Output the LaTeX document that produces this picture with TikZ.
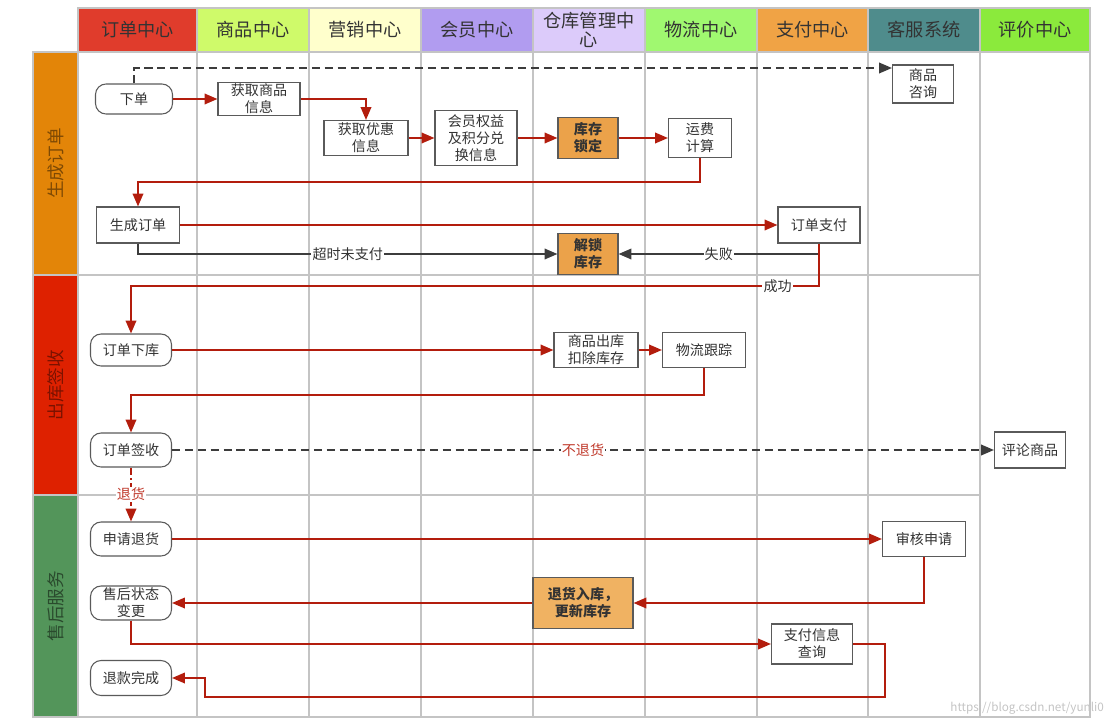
\documentclass[tikz,border=0pt]{standalone}
\usepackage{fontspec}
\setmainfont{Noto Sans CJK SC}
\definecolor{hdrorder}{HTML}{E03C2C}
\definecolor{hdrgoods}{HTML}{CFFA6A}
\definecolor{hdrmarket}{HTML}{FFFFCC}
\definecolor{hdrmember}{HTML}{B19CF0}
\definecolor{hdrstore}{HTML}{DCCBFA}
\definecolor{hdrship}{HTML}{A0F870}
\definecolor{hdrpay}{HTML}{F0A345}
\definecolor{hdrservice}{HTML}{4F8C8C}
\definecolor{hdrreview}{HTML}{8BEA3C}
\definecolor{laneorange}{HTML}{E38508}
\definecolor{lanered}{HTML}{DE2100}
\definecolor{lanegreen}{HTML}{53955A}
\definecolor{gridgray}{HTML}{C4C4C4}
\definecolor{boxgray}{HTML}{5A5A5A}
\definecolor{txtgray}{HTML}{333333}
\definecolor{flowred}{HTML}{B31D0D}
\definecolor{labelred}{HTML}{C0392B}
\definecolor{arrowgray}{HTML}{3C3C3C}
\definecolor{lockorange}{HTML}{EBA24A}
\definecolor{stockorange}{HTML}{F0B262}
\usepackage{tikz}
\usetikzlibrary{arrows.meta, positioning, calc}

\begin{document}
\begin{tikzpicture}[x=0.03cm, y=-0.03cm,
    grid/.style={draw=gridgray, line width=1.4pt},
    hdr/.style={draw=gridgray, line width=1.4pt, text=txtgray, align=center,
      minimum height=44*0.03cm, inner sep=1pt, font=\fontsize{15.5}{16}\selectfont},
    lane/.style={draw=gridgray, line width=1.4pt, rotate=90, minimum height=45*0.03cm,
      font=\fontsize{15}{16}\selectfont},
    sz/.style 2 args={minimum width=#1*0.03cm, minimum height=#2*0.03cm},
    box/.style={draw=boxgray, fill=white, line width=0.9pt, align=center, inner sep=1pt,
      text=txtgray, font=\fontsize{12}{14.5}\selectfont},
    rnd/.style={box, rounded corners=9pt},
    hot/.style={box, fill=lockorange, font=\fontsize{12}{14.5}\selectfont\bfseries},
    lbl/.style={fill=white, inner sep=1pt, text=txtgray, font=\fontsize{12}{14}\selectfont},
    flow/.style={draw=flowred, line width=1.6pt, -{Triangle[length=11pt, width=9pt]}},
    gflow/.style={draw=arrowgray, line width=1.6pt, -{Triangle[length=11pt, width=9pt]}},
    dflow/.style={draw=arrowgray, line width=1.6pt, dash pattern=on 7pt off 4pt,
      -{Triangle[length=11pt, width=9pt]}}]
  \useasboundingbox (0,0) rectangle (1111,727);

  % swim lane grid
  \foreach \x/\w/\c/\t [count=\i] in {78/119/hdrorder/订单中心, 197/112/hdrgoods/商品中心,
      309/112/hdrmarket/营销中心, 421/112/hdrmember/会员中心, 533/112/hdrstore/{仓库管理中\\心},
      645/112/hdrship/物流中心, 757/111/hdrpay/支付中心, 868/112/hdrservice/客服系统,
      980/110/hdrreview/评价中心}
    \node[hdr, fill=\c, minimum width=\w*0.03cm] (hdr\i) at (\x+\w/2, 30) {\t};
  \draw[grid] (78,52) rectangle (1090,717);
  \foreach \x in {197,309,421,533,645,757,868,980}
    \draw[grid] (\x,52) -- (\x,717);
  \foreach \y in {275,495}
    \draw[grid] (78,\y) -- (980,\y);
  \node[lane, fill=laneorange, text=laneorange!55!black, minimum width=223*0.03cm] (lane1) at (55.5,163.5) {生成订单};
  \node[lane, fill=lanered, text=lanered!55!black, minimum width=220*0.03cm] (lane2) at (55.5,385) {出库签收};
  \node[lane, fill=lanegreen, text=lanegreen!50!black, minimum width=222*0.03cm] (lane3) at (55.5,606) {售后服务};

  % 生成订单
  \node[rnd, sz={77}{30}] (order) at (134,99) {下单};
  \node[box, sz={82}{32}] (goodsinfo) at (259,99) {获取商品\\信息};
  \node[box, sz={84}{35}] (coupon) at (366,138) {获取优惠\\信息};
  \node[box, sz={82}{55}] (member) at (476,138) {会员权益\\及积分兑\\换信息};
  \node[hot, sz={60}{41}] (lock) at (588,138) {库存\\锁定};
  \node[box, sz={63}{39}] (freight) at (700,138) {运费\\计算};
  \node[box, sz={61}{38}] (consult) at (923,84) {商品\\咨询};
  \node[box, sz={83}{36}] (create) at (138,225) {生成订单};
  \node[box, sz={82}{36}] (pay) at (819,225) {订单支付};
  \node[hot, sz={60}{41}] (unlock) at (588,254) {解锁\\库存};

  % 出库签收
  \node[rnd, sz={81}{32}] (outbound) at (131,350) {订单下库};
  \node[box, sz={84}{35}] (outstock) at (596,350) {商品出库\\扣除库存};
  \node[box, sz={83}{35}] (track) at (704,350) {物流跟踪};
  \node[rnd, sz={81}{34}] (sign) at (131,450) {订单签收};
  \node[box, sz={71}{36}] (review) at (1030,450) {评论商品};

  % 售后服务
  \node[rnd, sz={81}{34}] (apply) at (131,539) {申请退货};
  \node[box, sz={83}{35}] (audit) at (924,539) {审核申请};
  \node[rnd, sz={81}{34}] (status) at (131,603) {售后状态\\变更};
  \node[hot, fill=stockorange, sz={100}{51}] (restock) at (583,603) {退货入库，\\更新库存};
  \node[box, sz={81}{40}] (payquery) at (812,644) {支付信息\\查询};
  \node[rnd, sz={81}{35}] (refund) at (131,678) {退款完成};

  % connectors
  \draw[dflow] (order.north) |- (consult.west |- 0,68);
  \draw[flow] (order) -- (goodsinfo);
  \draw[flow] (goodsinfo) -| (coupon);
  \draw[flow] (coupon) -- (member);
  \draw[flow] (member) -- (lock);
  \draw[flow] (lock) -- (freight);
  \draw[flow] (freight.south) |- (create.north |- 0,182) -- (create.north);
  \draw[flow] (create) -- (pay);
  \draw[gflow] (create.south) |- node[lbl, pos=0.75] {超时未支付} (unlock);
  \draw[gflow] (pay.south) |- node[lbl, pos=0.75] {失败} (unlock);
  \draw[flow] (pay.south) |- node[lbl, pos=0.53] {成功} (outbound.north |- 0,286) -- (outbound.north);
  \draw[flow] (outbound) -- (outstock);
  \draw[flow] (outstock) -- (track);
  \draw[flow] (track.south) |- (sign.north |- 0,395) -- (sign.north);
  \draw[dflow] (sign) -- node[lbl, text=labelred] {不退货} (review);
  \draw[flow, dash pattern=on 6pt off 3pt on 1.5pt off 3pt] (sign) -- node[lbl, text=labelred] {退货} (apply);
  \draw[flow] (apply) -- (audit);
  \draw[flow] (audit.south) |- (restock);
  \draw[flow] (restock) -- (status);
  \draw[flow] (status.south) |- (payquery);
  \draw[flow] (payquery.east) -- ++(32,0) |- ($(refund.east)+(33,19)$) |- (refund.east);

  \node[anchor=east, text=gridgray, font=\fontsize{10}{12}\selectfont] (mark) at (1108,708) {https://blog.csdn.net/yunli0};
\end{tikzpicture}
\end{document}
